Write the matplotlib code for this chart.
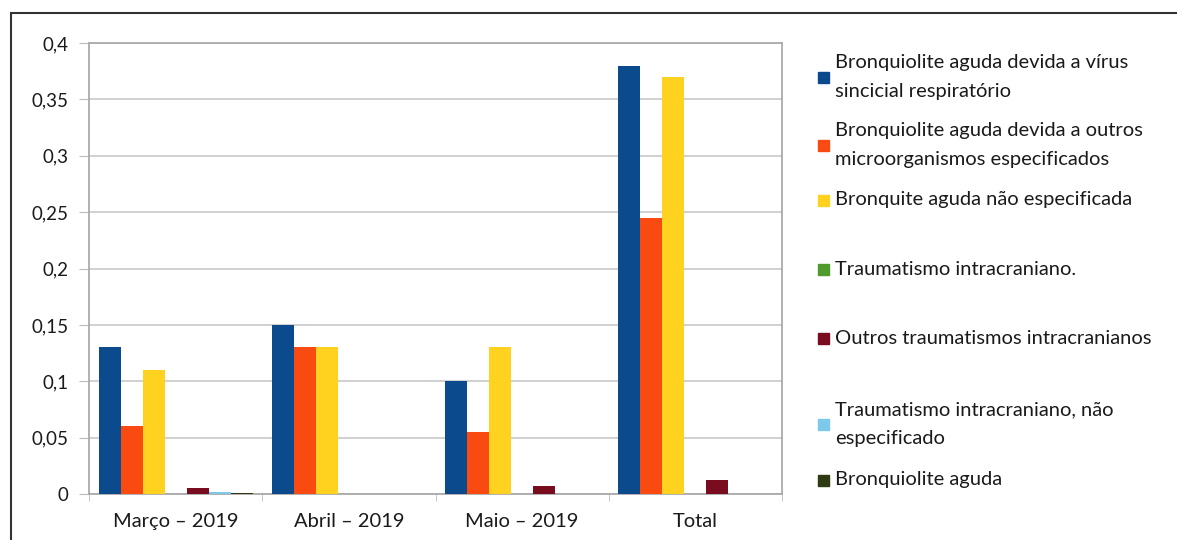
import numpy as np
import matplotlib.pyplot as plt
from matplotlib.patches import Rectangle

# data
categories = ['Março – 2019', 'Abril – 2019', 'Maio – 2019', 'Total']
series_names = [
    'Bronquiolite aguda devida a vírus\nsincicial respiratório',
    'Bronquiolite aguda devida a outros\nmicroorganismos especificados',
    'Bronquite aguda não especificada',
    'Traumatismo intracraniano.',
    'Outros traumatismos intracranianos',
    'Traumatismo intracraniano, não\nespecificado',
    'Bronquiolite aguda',
]
values = [
    [0.13, 0.15, 0.10, 0.38],
    [0.06, 0.13, 0.055, 0.245],
    [0.11, 0.13, 0.13, 0.37],
    [0.0, 0.0, 0.0, 0.0],
    [0.005, 0.0, 0.007, 0.012],
    [0.002, 0.0, 0.0, 0.0],
    [0.0005, 0.0, 0.0, 0.0],
]
colors = ['#0B4A8C', '#F94A12', '#FFD21F', '#4E9A2C', '#7A0C20', '#7EC8EA', '#2E3A12']
yticks = [0, 0.05, 0.1, 0.15, 0.2, 0.25, 0.3, 0.35, 0.4]
ytick_labels = ['0', '0,05', '0,1', '0,15', '0,2', '0,25', '0,3', '0,35', '0,4']

plt.rcParams['font.family'] = ['Lato', 'DejaVu Sans']

fig = plt.figure(figsize=(11.77, 5.4), dpi=100)
ax = fig.add_axes([89 / 1177, 1 - 494 / 540, (782 - 89) / 1177, (494 - 43) / 540])

n = len(series_names)
bw = 0.127
x = np.arange(len(categories))
for i in range(n):
    ax.bar(x + (i - (n - 1) / 2) * bw, values[i], width=bw, color=colors[i],
           zorder=3, linewidth=0)

ax.set_xlim(-0.5, len(categories) - 0.5)
ax.set_ylim(0, 0.4)
ax.set_yticks(yticks)
ax.set_yticklabels(ytick_labels, fontsize=13.5, color='#1a1a1a')
ax.set_xticks(x)
ax.set_xticklabels(categories, fontsize=14.5, color='#1a1a1a')
ax.tick_params(axis='x', length=0, pad=14)
ax.tick_params(axis='y', length=7, color='#BBBBBB', pad=8)
ax.set_xticks(np.arange(len(categories) + 1) - 0.5, minor=True)
ax.tick_params(axis='x', which='minor', length=5, color='#BBBBBB')
ax.grid(axis='y', color='#C8C8C8', linewidth=1.2, zorder=0)
for s in ax.spines.values():
    s.set_color('#AAAAAA')
    s.set_linewidth(1.3)

# legend drawn by hand to follow the uneven spacing
leg_y = [77, 145, 200, 269, 338, 424, 480]
for i in range(n):
    yy = 1 - leg_y[i] / 540
    fig.patches.append(Rectangle((818 / 1177, yy - 5.5 / 540), 11 / 1177, 11 / 540,
                                 transform=fig.transFigure, color=colors[i]))
    fig.text(835 / 1177, yy, series_names[i], fontsize=14.5, color='#1a1a1a',
             va='center', ha='left', linespacing=1.85)

# outer frame
fig.patches.append(Rectangle((11 / 1177, -0.1), 1.2, 1 - 13 / 540 + 0.1,
                             transform=fig.transFigure, fill=False,
                             edgecolor='#333333', linewidth=1.5))

fig.savefig('out.png', dpi=100)
